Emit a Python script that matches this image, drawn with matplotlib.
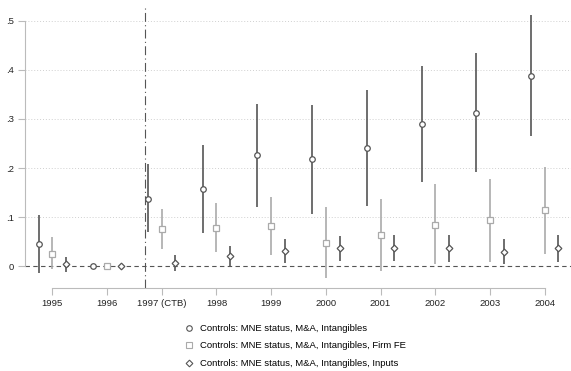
import numpy as np
import matplotlib
matplotlib.use("Agg")
import matplotlib.pyplot as plt
from matplotlib.lines import Line2D

plt.rcParams['font.family'] = ['Liberation Sans', 'DejaVu Sans']

years = np.arange(1995, 2005)
tick_labels = ['1995', '1996', '1997 (CTB)', '1998', '1999', '2000', '2001', '2002', '2003', '2004']

# Controls: MNE status, M&A, Intangibles
coef_a = [0.045, 0.0, 0.138, 0.157, 0.227, 0.218, 0.241, 0.289, 0.313, 0.388]
lo_a = [-0.014, 0.0, 0.069, 0.068, 0.121, 0.107, 0.122, 0.171, 0.193, 0.265]
hi_a = [0.104, 0.0, 0.208, 0.246, 0.331, 0.329, 0.359, 0.407, 0.434, 0.512]

# ... Firm FE
coef_b = [0.026, 0.0, 0.076, 0.078, 0.082, 0.047, 0.064, 0.085, 0.094, 0.114]
lo_b = [-0.006, 0.0, 0.035, 0.029, 0.022, -0.024, -0.010, 0.005, 0.009, 0.026]
hi_b = [0.060, 0.0, 0.117, 0.128, 0.141, 0.120, 0.138, 0.167, 0.178, 0.202]

# ... Inputs
coef_c = [0.004, 0.0, 0.006, 0.021, 0.031, 0.037, 0.037, 0.037, 0.030, 0.037]
lo_c = [-0.012, 0.0, -0.010, -0.001, 0.007, 0.011, 0.011, 0.009, 0.004, 0.009]
hi_c = [0.018, 0.0, 0.022, 0.042, 0.055, 0.061, 0.064, 0.064, 0.056, 0.064]

labels = ['Controls: MNE status, M&A, Intangibles',
          'Controls: MNE status, M&A, Intangibles, Firm FE',
          'Controls: MNE status, M&A, Intangibles, Inputs']

dark = '#555555'
light = '#aaaaaa'

fig = plt.figure(figsize=(5.71, 3.71), dpi=100)
ax = fig.add_axes([0.0438, 0.2245, 0.956, 0.762])

# gridlines
for g in [0.1, 0.2, 0.3, 0.4, 0.5]:
    ax.axhline(g, color='#d0d0d0', lw=0.7, ls=(0, (1, 2)), zorder=0)
ax.axhline(0, color='#555555', lw=0.8, ls=(0, (4, 3)), zorder=1)
ax.axvline(1996.69, color='#555555', lw=0.8, ls=(0, (8, 3, 1, 3)), zorder=1)

series = [
    (years - 0.25, coef_a, lo_a, hi_a, 'o', dark, 4.0),
    (years, coef_b, lo_b, hi_b, 's', light, 3.7),
    (years + 0.25, coef_c, lo_c, hi_c, 'D', dark, 3.4),
]
for x, c, lo, hi, m, col, ms in series:
    ax.vlines(x, lo, hi, color=col, lw=1.2, zorder=2)
    ax.plot(x, c, ls='none', marker=m, ms=ms, mfc='white', mec=col, mew=0.9, zorder=3)

ax.set_xlim(1994.5, 2004.48)
ax.set_ylim(-0.0436, 0.532)

ax.set_yticks([0, 0.1, 0.2, 0.3, 0.4, 0.5])
ax.set_yticklabels(['0', '.1', '.2', '.3', '.4', '.5'])
ax.set_xticks(years)
ax.set_xticklabels(tick_labels)

for s in ['top', 'right']:
    ax.spines[s].set_visible(False)
ax.spines['left'].set_bounds(0, 0.5)
ax.spines['bottom'].set_bounds(1995, 2004)
ax.spines['left'].set_color('#bbbbbb')
ax.spines['bottom'].set_color('#bbbbbb')
ax.tick_params(axis='both', colors='#bbbbbb', labelcolor='#222222', labelsize=6.8, length=5, width=0.8, pad=3)

handles = [Line2D([], [], ls='none', marker='o', ms=4.0, mfc='white', mec=dark, mew=0.8),
           Line2D([], [], ls='none', marker='s', ms=3.7, mfc='white', mec=light, mew=0.8),
           Line2D([], [], ls='none', marker='D', ms=3.4, mfc='white', mec=dark, mew=0.8)]
fig.legend(handles, labels, loc='center left', bbox_to_anchor=(184 / 571, 1 - 346 / 371),
           frameon=False, fontsize=6.8, handlelength=1.0, handletextpad=0.7, labelspacing=0.9,
           borderpad=0, borderaxespad=0)

fig.savefig('out.png', dpi=100)
